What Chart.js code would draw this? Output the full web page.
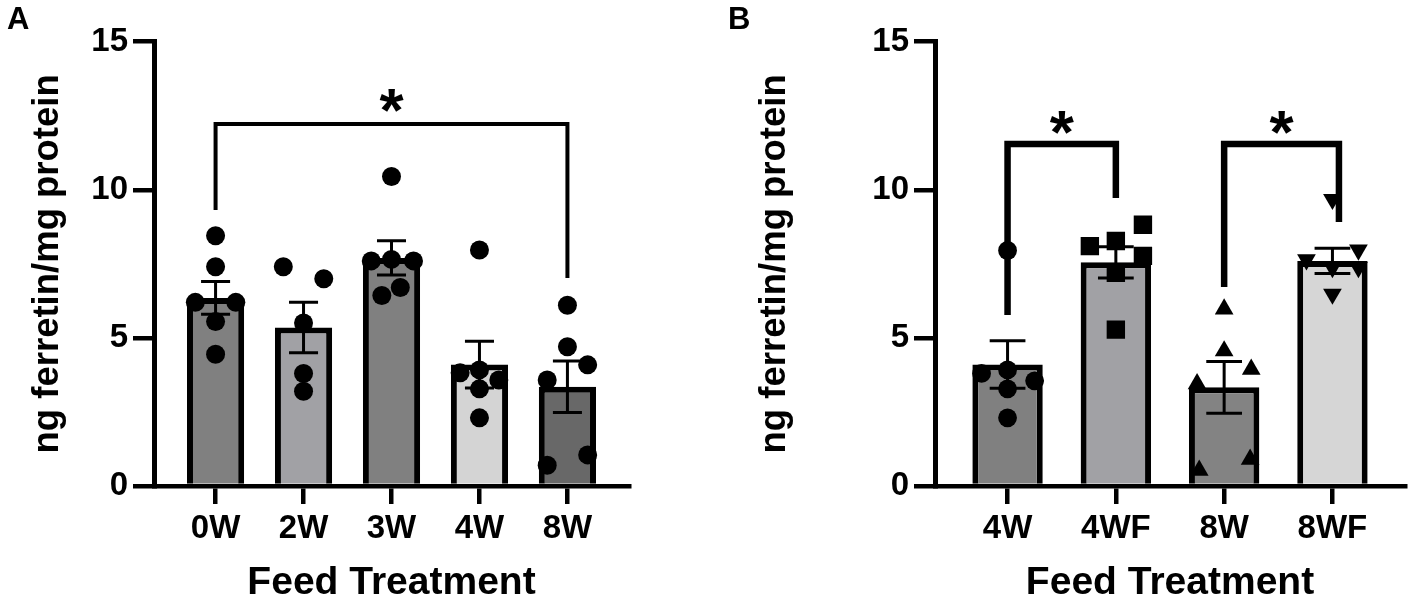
<!DOCTYPE html>
<html>
<head>
<meta charset="utf-8">
<title>Ferritin</title>
<script src="https://cdn.jsdelivr.net/npm/chart.js@4.4.1/dist/chart.umd.min.js"></script>
<style>
  html, body { margin: 0; padding: 0; background: #fff; }
  body { width: 1418px; height: 605px; position: relative; overflow: hidden; }
  .panel { position: absolute; top: 0; width: 709px; height: 605px; }
  .tag { position: absolute; top: 3px; font: bold 31px/31px 'Liberation Sans', Arial, sans-serif; color: #000; }
</style>
</head>
<body>
<div class="panel" style="left:0"><canvas id="chart-a" width="709" height="605"></canvas></div>
<div class="panel" style="left:709px"><canvas id="chart-b" width="709" height="605"></canvas></div>
<div class="tag" style="left:7px">A</div>
<div class="tag" style="left:728px">B</div>
<script>
// --- DATA ---
const yTicks = [0, 5, 10, 15];

// panel A
const catsA = ['0W', '2W', '3W', '4W', '8W'];
const meanA = [6.35, 5.35, 7.7, 4.1, 3.35];
const semA = [0.55, 0.85, 0.58, 0.79, 0.87];
const ptsA = [
    [8.45, 7.4, 6.2, 6.2, 5.55, 4.45],
    [7.4, 7.0, 5.5, 3.8, 3.2],
    [10.45, 7.6, 7.65, 7.6, 6.43, 6.7],
    [7.97, 3.82, 3.92, 3.58, 3.28, 2.3],
    [6.1, 4.7, 4.09, 3.58, 0.7, 1.05]
];
// horizontal scatter of the dots inside each column (category units)
const jitA = [
    [0, 0, -0.23, 0.23, 0, 0],
    [-0.23, 0.23, 0, 0, 0],
    [0, -0.23, 0, 0.25, -0.11, 0.1],
    [0, -0.22, 0, 0.22, 0, 0],
    [0, 0, 0.23, -0.23, -0.23, 0.23]
];
// significance: columns, bracket top, leg ends, label
const sigA = [{ from: 0, to: 4, top: 12.22, ends: [9.32, 7.02], star: 13.2, label: '*' }];

// panel B
const catsB = ['4W', '4WF', '8W', '8WF'];
const meanB = [4.1, 7.55, 3.33, 7.6];
const semB = [0.8, 0.53, 0.87, 0.43];
const ptsB = [
    [7.95, 3.8, 3.92, 3.55, 3.28, 2.3],
    [8.82, 8.1, 8.27, 7.77, 7.2, 5.28],
    [5.97, 4.56, 3.94, 3.45, 0.53, 0.9],
    [9.68, 7.97, 7.64, 7.38, 7.38, 6.48]
];
const jitB = [
    [0, -0.24, 0, 0.25, 0, 0],
    [0.25, -0.24, 0, 0.25, 0, 0],
    [0, 0, 0.25, -0.25, -0.23, 0.24],
    [0, 0.24, -0.24, 0, 0.24, 0]
];
const sigB = [
    { from: 0, to: 1, top: 11.55, ends: [5.77, 9.72], star: 12.46, label: '*' },
    { from: 2, to: 3.06, top: 11.55, ends: [6.72, 8.91], star: 12.46, label: '*' }
];

// --- STYLE ---
const FONT = "'Liberation Sans', Arial, Helvetica, sans-serif";
const colorsA = ['#808080', '#a1a1a5', '#808080', '#d4d4d4', '#686868'];
const colorsB = ['#808080', '#a1a1a5', '#838383', '#d6d6d6'];

/**
 * Overlay: error bars (mean ± SEM) plus significance brackets.
 */
function makeOverlay(means, sems, sigs, capHalf, bracketWidth) {
    return {
        id: 'overlay',
        afterDatasetsDraw(chart) {
            const { ctx, scales: { x, y } } = chart;
            ctx.save();
            ctx.strokeStyle = '#000';
            ctx.lineCap = 'butt';

            // error bars
            ctx.lineWidth = 3;
            means.forEach((m, i) => {
                const px = x.getPixelForValue(i);
                const half = x.getPixelForValue(i + capHalf) - px;
                const hi = y.getPixelForValue(m + sems[i]);
                const lo = y.getPixelForValue(m - sems[i]);
                ctx.beginPath();
                ctx.moveTo(px, hi); ctx.lineTo(px, lo);
                ctx.moveTo(px - half, hi); ctx.lineTo(px + half, hi);
                ctx.moveTo(px - half, lo); ctx.lineTo(px + half, lo);
                ctx.stroke();
            });

            // brackets + stars
            ctx.lineWidth = bracketWidth;
            ctx.lineJoin = 'miter';
            sigs.forEach(s => {
                const x1 = x.getPixelForValue(s.from);
                const x2 = x.getPixelForValue(s.to);
                const yt = y.getPixelForValue(s.top);
                ctx.beginPath();
                ctx.moveTo(x1, y.getPixelForValue(s.ends[0]));
                ctx.lineTo(x1, yt);
                ctx.lineTo(x2, yt);
                ctx.lineTo(x2, y.getPixelForValue(s.ends[1]));
                ctx.stroke();

                const fs = 62;
                ctx.font = `bold ${fs}px ${FONT}`;
                ctx.fillStyle = '#000';
                ctx.textAlign = 'center';
                ctx.textBaseline = 'alphabetic';
                ctx.fillText(s.label, (x1 + x2) / 2, y.getPixelForValue(s.star) + 0.58 * fs);
            });
            ctx.restore();
        }
    };
}

function makeChart(canvasId, cfg) {
    const { cats, means, sems, pts, jit, colors, shapes, rotations, radii, sigs,
            xRange, leftWidth, rightPad, titlePad, capHalf, bracketWidth } = cfg;

    const datasets = [{
        type: 'bar',
        data: means.map((m, i) => ({ x: i, y: m })),
        backgroundColor: colors,
        borderColor: '#000',
        borderWidth: 6,
        barPercentage: 0.65,
        categoryPercentage: 1,
        order: 10
    }];

    pts.forEach((arr, g) => {
        datasets.push({
            type: 'scatter',
            data: arr.map((v, k) => ({ x: g + jit[g][k], y: v })),
            pointStyle: shapes[g],
            pointRotation: rotations[g],
            pointRadius: radii[g],
            pointBackgroundColor: '#000',
            pointBorderWidth: 0,
            order: 1
        });
    });

    const tickFont = { family: FONT, size: 33, weight: 'bold', lineHeight: 1 };
    const titleFont = { family: FONT, size: 36.5, weight: 'bold', lineHeight: 1 };

    return new Chart(document.getElementById(canvasId), {
        type: 'bar',
        data: { datasets },
        options: {
            responsive: false,
            animation: false,
            layout: { padding: { left: 0, top: 41.7, right: rightPad, bottom: 0 } },
            plugins: { legend: { display: false }, tooltip: { enabled: false } },
            scales: {
                x: {
                    type: 'linear',
                    bounds: 'data',
                    offset: false,
                    min: xRange[0],
                    max: xRange[1],
                    afterBuildTicks: s => { s.ticks = cats.map((c, i) => ({ value: i })); },
                    afterFit: s => { s.height = 119; s.paddingLeft = 0; s.paddingRight = 0; },
                    ticks: {
                        callback: (v, i) => cats[i],
                        autoSkip: false, maxRotation: 0,
                        color: '#000', font: tickFont, padding: 8
                    },
                    grid: { offset: false, drawOnChartArea: false, tickLength: 18, lineWidth: 4.5, color: '#000' },
                    border: { display: true, width: 4.5, color: '#000' },
                    title: {
                        display: true, text: 'Feed Treatment', color: '#000',
                        font: { family: FONT, size: 39, weight: 'bold', lineHeight: 1 },
                        padding: { top: 0, bottom: 2 }
                    }
                },
                y: {
                    min: 0,
                    max: 15,
                    afterBuildTicks: s => { s.ticks = yTicks.map(v => ({ value: v })); },
                    afterFit: s => { s.width = leftWidth; s.paddingTop = 0; s.paddingBottom = 0; },
                    ticks: { color: '#000', font: tickFont, padding: 5 },
                    grid: { drawOnChartArea: false, tickLength: 21, lineWidth: 4.5, color: '#000' },
                    border: { display: true, width: 5, color: '#000' },
                    title: {
                        display: true, text: 'ng ferretin/mg protein', color: '#000',
                        font: titleFont, padding: { top: titlePad, bottom: 0 }
                    }
                }
            }
        },
        plugins: [makeOverlay(means, sems, sigs, capHalf, bracketWidth)]
    });
}

// --- CHARTS ---
makeChart('chart-a', {
    cats: catsA, means: meanA, sems: semA, pts: ptsA, jit: jitA, colors: colorsA,
    shapes: catsA.map(() => 'circle'), rotations: catsA.map(() => 0), radii: catsA.map(() => 9.5),
    sigs: sigA, xRange: [-0.7, 4.7], leftWidth: 154, rightPad: 80, titlePad: 30,
    capHalf: 0.165, bracketWidth: 4
});

makeChart('chart-b', {
    cats: catsB, means: meanB, sems: semB, pts: ptsB, jit: jitB, colors: colorsB,
    shapes: ['circle', 'rect', 'triangle', 'triangle'], rotations: [0, 0, 0, 180], radii: [9.4, 13, 10.8, 10.8],
    sigs: sigB, xRange: [-0.67, 3.67], leftWidth: 226, rightPad: 8, titlePad: 48,
    capHalf: 0.165, bracketWidth: 6.5
});
</script>
</body>
</html>
